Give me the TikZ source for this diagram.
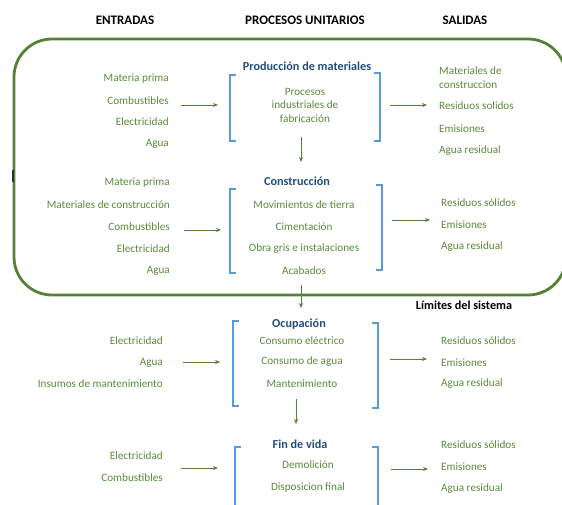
\documentclass[tikz,border=0pt]{standalone}
\usepackage{fontspec}
\setmainfont{Carlito}
\usetikzlibrary{arrows.meta}
\definecolor{gtext}{HTML}{5A8A3A}
\definecolor{gbox}{HTML}{548235}
\definecolor{bbr}{HTML}{5B9BD5}
\definecolor{tblue}{HTML}{1F4E79}
\tikzset{
  hdr/.style={font=\fontsize{13}{15}\selectfont\bfseries, text=black, inner sep=0},
  ttl/.style={font=\fontsize{12.2}{14}\selectfont\bfseries, text=tblue, inner sep=0},
  inp/.style={font=\fontsize{11.2}{13}\selectfont, text=gtext, anchor=east, inner sep=0},
  outp/.style={font=\fontsize{11.2}{13}\selectfont, text=gtext, anchor=west, inner sep=0},
  prc/.style={font=\fontsize{11.2}{13}\selectfont, text=gtext, inner sep=0},
  arr/.style={draw=gbox, line width=0.8pt, -{Stealth[length=5pt,width=4pt]}},
  brk/.style={draw=bbr, line width=2pt},
  sysbox/.style={draw=gbox, line width=2.8pt, rounded corners=38pt}
}
\begin{document}
\begin{tikzpicture}[x=1pt,y=-1pt]
\useasboundingbox (0,0) rectangle (562,505);
% headers
\node[hdr] (hE) at (125,20) {ENTRADAS};
\node[hdr] (hP) at (305,20) {PROCESOS UNITARIOS};
\node[hdr] (hS) at (465,20) {SALIDAS};
% system boundary
\draw[sysbox] (14,39) rectangle (566,295);
\draw[black!80, line width=1.2pt] (13,170) -- (13,182);
\node[font=\fontsize{12.2}{14}\selectfont\bfseries, inner sep=0] (lim) at (464,305) {Límites del sistema};

% ---------- Block 1: Produccion
\node[ttl] (t1) at (307,66) {Producción de materiales};
\draw[brk] (236,75) -- (230,75) -- (230,141) -- (236,141);
\draw[brk] (374,73) -- (380,73) -- (380,141) -- (374,141);
\node[prc] (p1a) at (305,92) {Procesos};
\node[prc] (p1b) at (305,105) {industriales de};
\node[prc] (p1c) at (305,119) {fabricación};
\node[inp] (i1a) at (169,79) {Materia prima};
\node[inp] (i1b) at (169,101) {Combustibles};
\node[inp] (i1c) at (169,122) {Electricidad};
\node[inp] (i1d) at (169,144) {Agua};
\node[outp] (o1a) at (439,71) {Materiales de};
\node[outp] (o1b) at (439,85) {construccion};
\node[outp] (o1c) at (439,106) {Residuos solidos};
\node[outp] (o1d) at (439,129) {Emisiones};
\node[outp] (o1e) at (439,151) {Agua residual};
\coordinate (a1s) at (181,105); \coordinate (a1e) at (218,105);
\coordinate (b1s) at (390,105); \coordinate (b1e) at (427,105);
\coordinate (d1s) at (301,137); \coordinate (d1e) at (301,162);
\draw[arr] (a1s) -- (a1e);
\draw[arr] (b1s) -- (b1e);
\draw[arr] (d1s) -- (d1e);

% ---------- Block 2: Construccion
\node[ttl] (t2) at (297,181) {Construcción};
\draw[brk] (236,189) -- (230,189) -- (230,273) -- (236,273);
\draw[brk] (376,185) -- (382,185) -- (382,270) -- (376,270);
\node[prc] (p2a) at (304,205) {Movimientos de tierra};
\node[prc] (p2b) at (304,227) {Cimentación};
\node[prc] (p2c) at (304,249) {Obra gris e instalaciones};
\node[prc] (p2d) at (304,271) {Acabados};
\node[inp] (i2a) at (170,183) {Materia prima};
\node[inp] (i2b) at (170,205) {Materiales de construcción};
\node[inp] (i2c) at (170,227) {Combustibles};
\node[inp] (i2d) at (170,249) {Electricidad};
\node[inp] (i2e) at (170,271) {Agua};
\node[outp] (o2a) at (441,203) {Residuos sólidos};
\node[outp] (o2b) at (441,225) {Emisiones};
\node[outp] (o2c) at (441,247) {Agua residual};
\coordinate (a2s) at (184,230); \coordinate (a2e) at (221,230);
\coordinate (b2s) at (392,220); \coordinate (b2e) at (430,220);
\coordinate (d2s) at (301,285); \coordinate (d2e) at (301,308);
\draw[arr] (a2s) -- (a2e);
\draw[arr] (b2s) -- (b2e);
\draw[arr] (d2s) -- (d2e);

% ---------- Block 3: Ocupacion
\node[ttl] (t3) at (299,324) {Ocupación};
\draw[brk] (239,321) -- (233,321) -- (233,406) -- (239,406);
\draw[brk] (372,323) -- (378,323) -- (378,408) -- (372,408);
\node[prc] (p3a) at (302,341) {Consumo eléctrico};
\node[prc] (p3b) at (302,362) {Consumo de agua};
\node[prc] (p3c) at (302,384) {Mantenimiento};
\node[inp] (i3a) at (163,341) {Electricidad};
\node[inp] (i3b) at (163,363) {Agua};
\node[inp] (i3c) at (163,384) {Insumos de mantenimiento};
\node[outp] (o3a) at (441,341) {Residuos sólidos};
\node[outp] (o3b) at (441,363) {Emisiones};
\node[outp] (o3c) at (441,384) {Agua residual};
\coordinate (a3s) at (183,362); \coordinate (a3e) at (220,362);
\coordinate (b3s) at (390,359); \coordinate (b3e) at (427,359);
\coordinate (d3s) at (296,399); \coordinate (d3e) at (296,424);
\draw[arr] (a3s) -- (a3e);
\draw[arr] (b3s) -- (b3e);
\draw[arr] (d3s) -- (d3e);

% ---------- Block 4: Fin de vida
\node[ttl] (t4) at (300,444) {Fin de vida};
\draw[brk] (241,447) -- (235,447) -- (235,510);
\draw[brk] (372,447) -- (378,447) -- (378,510);
\node[prc] (p4a) at (308,465) {Demolición};
\node[prc] (p4b) at (308,488) {Disposicion final};
\node[inp] (i4a) at (163,456) {Electricidad};
\node[inp] (i4b) at (163,478) {Combustibles};
\node[outp] (o4a) at (441,445) {Residuos sólidos};
\node[outp] (o4b) at (441,467) {Emisiones};
\node[outp] (o4c) at (441,489) {Agua residual};
\coordinate (a4s) at (181,468); \coordinate (a4e) at (218,468);
\coordinate (b4s) at (391,469); \coordinate (b4e) at (428,469);
\draw[arr] (a4s) -- (a4e);
\draw[arr] (b4s) -- (b4e);
\end{tikzpicture}
\end{document}
